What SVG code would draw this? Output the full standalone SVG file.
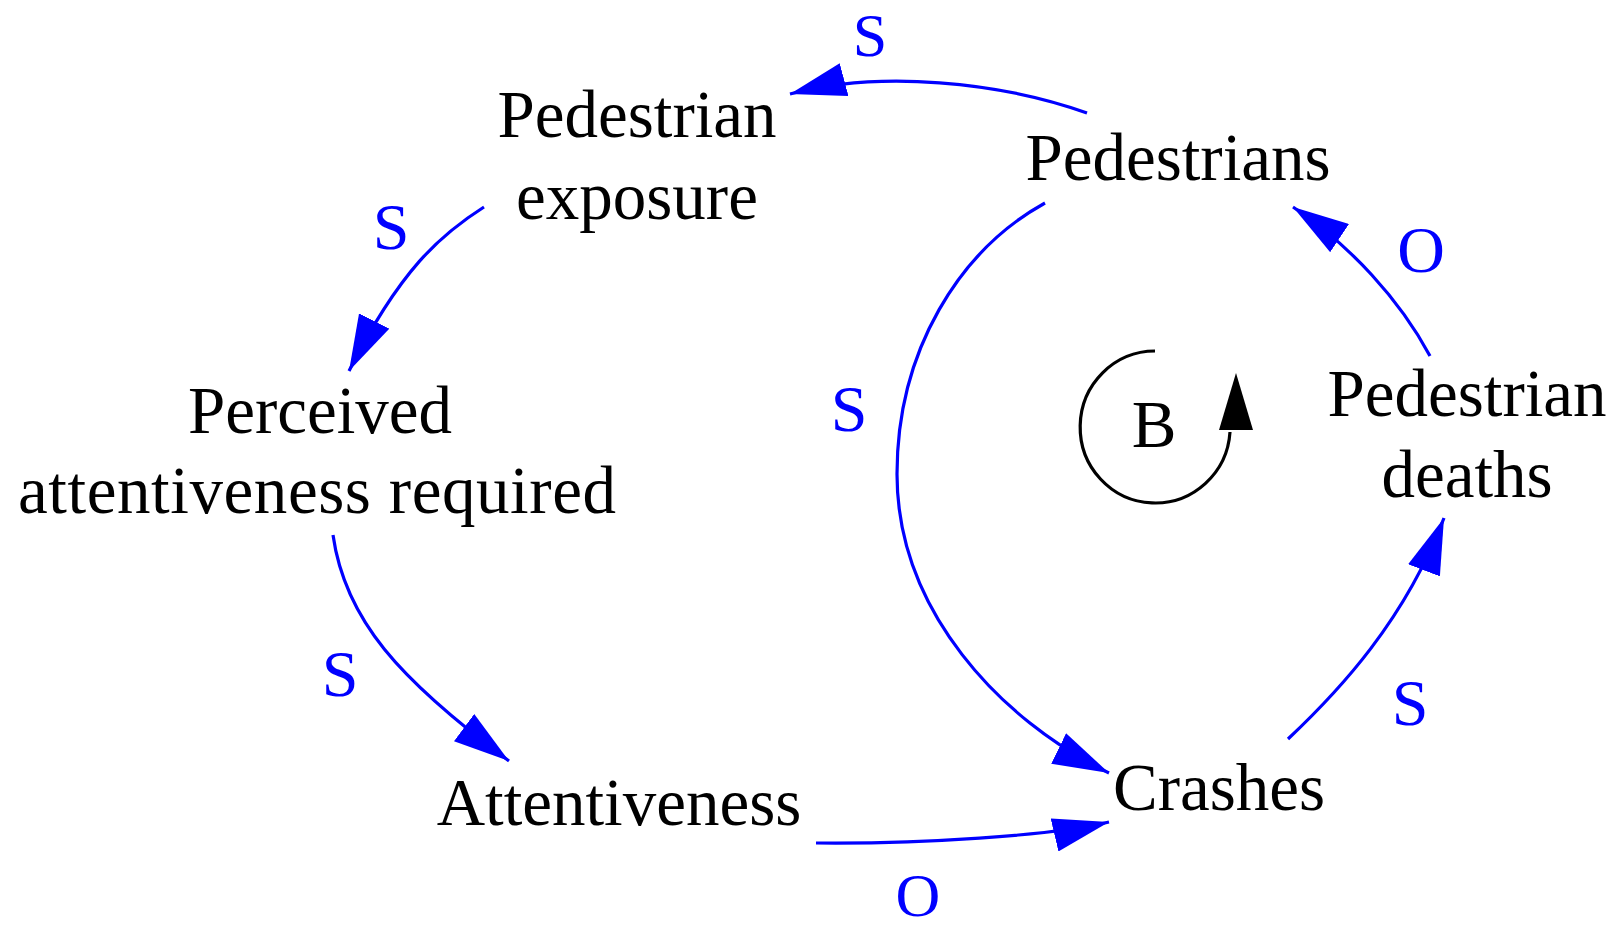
<svg xmlns="http://www.w3.org/2000/svg" width="1617" height="930" viewBox="0 0 1617 930">
<style>
text { font-family: "Liberation Serif", "Times New Roman", serif; font-size: 67px; text-anchor: middle; }
.node { fill: #000; }
.pol { fill: #0000FF; font-size: 66px; }
.pol.edge { font-size: 62px; }
.link { fill: none; stroke: #0000FF; stroke-width: 3.2; }
.loop { fill: none; stroke: #000; stroke-width: 3.2; }
</style>
<defs>
<marker id="ah" viewBox="0 0 56 34" refX="56" refY="17" markerWidth="56" markerHeight="34" markerUnits="userSpaceOnUse" orient="auto">
<path d="M0,0 L56,17 L0,34 z" fill="#0000FF"/>
</marker>
</defs>
<rect width="1617" height="930" fill="#fff"/>
<g id="connectors">
<path class="link" marker-end="url(#ah)" d="M1087,113 C1000,82 880,70 790,94"/>
<path class="link" marker-end="url(#ah)" d="M484,207 C440,235 400,270 349,371"/>
<path class="link" marker-end="url(#ah)" d="M333,535 C345,620 400,680 509,761"/>
<path class="link" marker-end="url(#ah)" d="M816,843 C920,844 1050,836 1109,822"/>
<path class="link" marker-end="url(#ah)" d="M1045,203 C960,250 897,350 897,474 C897,610 1000,720 1109,773"/>
<path class="link" marker-end="url(#ah)" d="M1288,739 C1340,690 1405,620 1444,518"/>
<path class="link" marker-end="url(#ah)" d="M1430,356 C1400,300 1350,245 1293,207"/>
<text class="pol edge" x="870" y="56">S</text>
<text class="pol" x="391" y="249">S</text>
<text class="pol" x="849" y="431">S</text>
<text class="pol" x="340" y="696">S</text>
<text class="pol edge" x="918" y="916">O</text>
<text class="pol" x="1410" y="725">S</text>
<text class="pol" x="1421" y="272">O</text>
</g>
<g id="loop-B">
<path class="loop" d="M1155,351 A75,76 0 1 0 1230,432"/>
<polygon points="1219,430 1253,430 1236,373" fill="#000"/>
<text class="node" x="1154" y="447">B</text>
</g>
<g id="node-pedestrian-exposure">
<text class="node" x="637" y="137">Pedestrian</text>
<text class="node" x="637" y="219">exposure</text>
</g>
<g id="node-pedestrians">
<text class="node" x="1178" y="180">Pedestrians</text>
</g>
<g id="node-perceived">
<text class="node" x="320" y="433">Perceived</text>
<text class="node" x="317" y="513" textLength="598" lengthAdjust="spacing">attentiveness required</text>
</g>
<g id="node-attentiveness">
<text class="node" x="619" y="825">Attentiveness</text>
</g>
<g id="node-crashes">
<text class="node" x="1219" y="810">Crashes</text>
</g>
<g id="node-pedestrian-deaths">
<text class="node" x="1467" y="416">Pedestrian</text>
<text class="node" x="1467" y="497">deaths</text>
</g>
</svg>
